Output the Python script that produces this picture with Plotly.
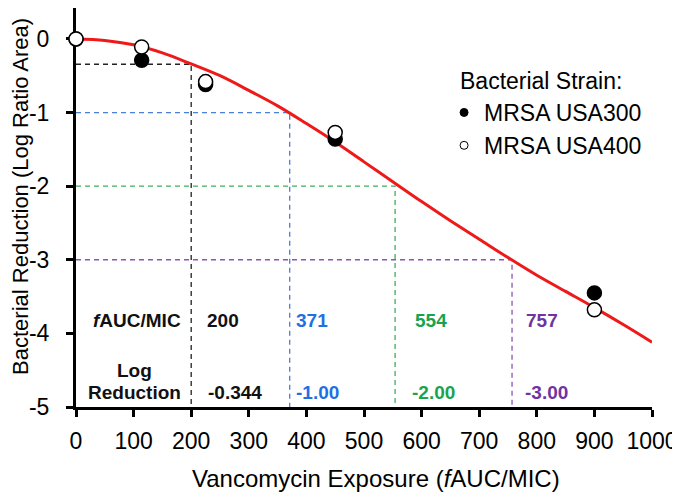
import plotly.graph_objects as go

# ---- data ----
curve_x = [0, 50, 100, 150, 200, 250, 300, 350, 400, 450, 500,
           550, 600, 650, 700, 750, 800, 850, 900, 950, 1000]
curve_y = [0, -0.02, -0.08, -0.19, -0.34, -0.50, -0.70, -0.91, -1.15, -1.40, -1.67,
           -1.94, -2.21, -2.47, -2.72, -2.97, -3.21, -3.43, -3.65, -3.88, -4.12]

usa300_x = [0, 114, 225, 450, 900]
usa300_y = [0, -0.29, -0.62, -1.36, -3.45]
usa400_x = [0, 114, 225, 450, 900]
usa400_y = [0, -0.11, -0.58, -1.27, -3.68]

target_auc = [200, 371, 554, 757]
target_red = [-0.344, -1.00, -2.00, -3.00]
target_auc_labels = ["200", "371", "554", "757"]
target_red_labels = ["-0.344", "-1.00", "-2.00", "-3.00"]
line_colors = ["#222222", "#4a7fd8", "#3fae5f", "#8a55b8"]
text_colors = ["#111111", "#1f6fe6", "#19a34f", "#6f33a3"]
label_x = [255, 410, 616, 809]
label_x2 = [276, 420, 620, 816]

x_ticks = [0, 100, 200, 300, 400, 500, 600, 700, 800, 900, 1000]
y_ticks = [0, -1, -2, -3, -4, -5]
y_tick_text = ["0", "-1", "-2", "-3", "-4", "-5"]

FONT = "Arial, Liberation Sans, sans-serif"

fig = go.Figure()

# dashed guide lines
for a, r, c in zip(target_auc, target_red, line_colors):
    fig.add_trace(go.Scatter(
        x=[0, a, a], y=[r, r, -5], mode="lines",
        line=dict(color=c, width=1.3, dash="5px,4px"),
        showlegend=False, hoverinfo="skip"))

# fitted curve
fig.add_trace(go.Scatter(
    x=curve_x, y=curve_y, mode="lines",
    line=dict(color="#ee1a1a", width=3, shape="spline", smoothing=1),
    showlegend=False, hoverinfo="skip"))

# data points
fig.add_trace(go.Scatter(
    x=usa300_x, y=usa300_y, mode="markers", cliponaxis=False,
    marker=dict(size=14, color="black", line=dict(color="black", width=1.5)),
    showlegend=False))
fig.add_trace(go.Scatter(
    x=usa400_x, y=usa400_y, mode="markers", cliponaxis=False,
    marker=dict(size=14, color="white", line=dict(color="black", width=1.5)),
    showlegend=False))

# legend entries
fig.add_trace(go.Scatter(
    x=[None], y=[None], mode="markers", name="MRSA USA300",
    marker=dict(size=8, color="black", line=dict(color="black", width=1))))
fig.add_trace(go.Scatter(
    x=[None], y=[None], mode="markers", name="MRSA USA400",
    marker=dict(size=8, color="white", line=dict(color="black", width=1))))

annotations = []
bold = dict(family=FONT, size=19, color="#111111")
annotations.append(dict(x=186, y=-3.82, xref="x", yref="y", xanchor="right",
                        yanchor="middle", showarrow=False,
                        text="<b><i>f</i>AUC/MIC</b>", font=bold))
annotations.append(dict(x=101, y=-4.5, xref="x", yref="y", xanchor="center",
                        yanchor="middle", showarrow=False, text="<b>Log</b>", font=bold))
annotations.append(dict(x=101, y=-4.8, xref="x", yref="y", xanchor="center",
                        yanchor="middle", showarrow=False, text="<b>Reduction</b>", font=bold))
for lx, lx2, t1, t2, c in zip(label_x, label_x2, target_auc_labels, target_red_labels, text_colors):
    annotations.append(dict(x=lx, y=-3.82, xref="x", yref="y", showarrow=False,
                            text="<b>%s</b>" % t1,
                            font=dict(family=FONT, size=19, color=c)))
    annotations.append(dict(x=lx2, y=-4.8, xref="x", yref="y", showarrow=False,
                            text="<b>%s</b>" % t2,
                            font=dict(family=FONT, size=19, color=c)))

# axis titles and legend heading
annotations.append(dict(x=0.52, y=-0.180, xref="paper", yref="paper", showarrow=False,
                        xanchor="center", yanchor="middle",
                        text="Vancomycin Exposure (<i>f</i>AUC/MIC)",
                        font=dict(family=FONT, size=24, color="black")))
annotations.append(dict(x=-0.0955, y=0.529, xref="paper", yref="paper", showarrow=False,
                        xanchor="center", yanchor="middle", textangle=-90,
                        text="Bacterial Reduction (Log Ratio Area)",
                        font=dict(family=FONT, size=22, color="black")))
annotations.append(dict(x=0.663, y=0.817, xref="paper", yref="paper", showarrow=False,
                        xanchor="left", yanchor="middle",
                        text="Bacterial Strain:",
                        font=dict(family=FONT, size=23, color="black")))

fig.update_layout(
    width=672, height=484,
    margin=dict(l=68, r=28, t=0, b=85),
    plot_bgcolor="white", paper_bgcolor="white",
    font=dict(family=FONT, size=23, color="black"),
    annotations=annotations,
    legend=dict(
        x=0.639, y=0.792, xanchor="left", yanchor="top",
        bgcolor="rgba(0,0,0,0)", font=dict(family=FONT, size=23),
        itemsizing="trace", tracegroupgap=0,
    ),
)
fig.update_xaxes(
    range=[0, 1000], tickvals=x_ticks, showgrid=False, zeroline=False,
    showline=True, linecolor="black", linewidth=3,
    ticks="outside", ticklen=7, tickwidth=3, tickcolor="black",
    ticklabelstandoff=4, layer="below traces",
    tickfont=dict(family=FONT, size=23, color="black"))
fig.update_yaxes(
    range=[-5, 0.42], tickvals=y_ticks, ticktext=y_tick_text,
    showgrid=False, zeroline=False,
    showline=True, linecolor="black", linewidth=3,
    ticks="outside", ticklen=7, tickwidth=3, tickcolor="black",
    ticklabelstandoff=12, layer="below traces",
    tickfont=dict(family=FONT, size=23, color="black"))

fig.write_html("out.html")
